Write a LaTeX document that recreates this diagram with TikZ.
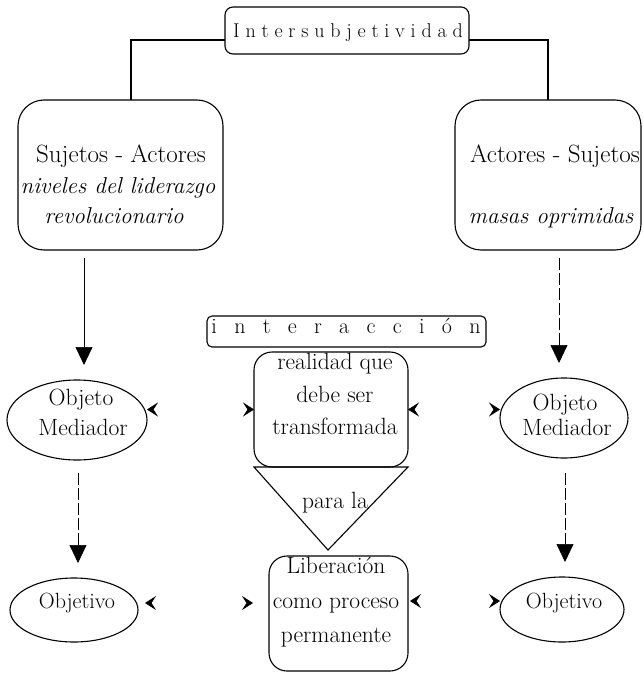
\documentclass[tikz,border=0pt]{standalone}
\usepackage{fontspec}
\usetikzlibrary{arrows.meta,shapes.geometric}
\newcommand{\heavy}{\addfontfeatures{FakeBold=1}}
\newcommand{\bigtxt}{\fontsize{25}{30}\selectfont\heavy}
\newcommand{\itxt}{\fontsize{23}{28}\selectfont\itshape\heavy}
\newcommand{\midtxt}{\fontsize{23.5}{28}\selectfont\heavy}
\newcommand{\smtxt}{\fontsize{22}{26}\selectfont\heavy}
\newcommand{\ls}{\hspace{5.8pt}}
\newcommand{\lw}{\hspace{17.3pt}}
\begin{document}
\begin{tikzpicture}[x=1pt,y=-1pt,
  every node/.style={inner sep=0pt, outer sep=0pt},
  rbox/.style={draw, line width=1.1pt, rectangle},
  oval/.style={draw, line width=1.1pt, ellipse},
  txt/.style={anchor=base},
  link/.style={line width=1.5pt},
  droparrow/.style={line width=0.7pt, -{Triangle[length=18pt,width=17pt]}},
  dashedlink/.style={dash pattern=on 12pt off 3pt},
  chev/.style={line width=0.6pt, dash pattern=on 0pt off 1000pt,
    {Stealth[length=11pt,width=14pt,inset=4.5pt]}-{Stealth[length=11pt,width=14pt,inset=4.5pt]}}]
\fill[white] (0,0) rectangle (643,674);
\useasboundingbox (0,0) rectangle (643,674);

% boxes and ovals
\node[rbox, rounded corners=8pt, minimum width=244pt, minimum height=47pt] (ib) at (347,30.5) {};
\node[rbox, rounded corners=26pt, minimum width=205pt, minimum height=150pt] (sa) at (120.5,175) {};
\node[rbox, rounded corners=26pt, minimum width=186pt, minimum height=150pt] (sb) at (548,175) {};
\node[rbox, rounded corners=5pt, minimum width=279pt, minimum height=31pt] (ia) at (346.5,331.5) {};
\node[rbox, rounded corners=18pt, minimum width=154pt, minimum height=115pt] (real) at (331,409.5) {};
\node[rbox, rounded corners=18pt, minimum width=139pt, minimum height=115pt] (lib) at (338.5,613.5) {};
\node[oval, minimum width=140pt, minimum height=80pt] (om1) at (77,420) {};
\node[oval, minimum width=128pt, minimum height=80pt] (om2) at (564,418) {};
\node[oval, minimum width=128pt, minimum height=64pt] (ob1) at (74,610) {};
\node[oval, minimum width=124pt, minimum height=65pt] (ob2) at (562,609.5) {};

% funnel under the reality box
\coordinate (apex) at (328,550);
\draw[line width=1.1pt] (real.south west) -- (real.south east) -- (apex) -- cycle;

% texts
\node[txt, font=\fontsize{20}{24}\selectfont\heavy] (it) at (348,38)
  {I\ls n\ls t\ls e\ls r\ls s\ls u\ls b\ls j\ls e\ls t\ls i\ls v\ls i\ls d\ls a\ls d};
\node[txt, font=\bigtxt] (t1) at (121,162) {Sujetos - Actores};
\node[txt, font=\itxt] (t2) at (118,193) {niveles del liderazgo};
\node[txt, font=\itxt] (t3) at (114,223) {revolucionario};
\node[txt, font=\bigtxt] (t4) at (555,162) {Actores - Sujetos};
\node[txt, font=\itxt] (t5) at (551,223) {masas oprimidas};
\node[txt, font=\fontsize{22}{26}\selectfont\heavy] (ix) at (346,333)
  {i\lw n\lw t\lw e\lw r\lw a\lw c\lw c\lw i\lw ó\lw n};
\node[txt, font=\midtxt] (r1) at (335,369) {realidad que};
\node[txt, font=\midtxt] (r2) at (335,402) {debe ser};
\node[txt, font=\midtxt] (r3) at (335,434) {transformada};
\node[txt, font=\midtxt] (pl) at (335,508) {para la};
\node[txt, font=\midtxt] (l1) at (336,573) {Liberación};
\node[txt, font=\midtxt] (l2) at (336,608) {como proceso};
\node[txt, font=\midtxt] (l3) at (336,642) {permanente};
\node[txt, font=\midtxt] (m1) at (81,405) {Objeto};
\node[txt, font=\midtxt] (m2) at (83,435) {Mediador};
\node[txt, font=\midtxt] (m3) at (565,410) {Objeto};
\node[txt, font=\midtxt] (m4) at (567,435) {Mediador};
\node[txt, font=\smtxt] (o1) at (77,608) {Objetivo};
\node[txt, font=\smtxt] (o2) at (564,608) {Objetivo};

% branches from the top box
\draw[link] ([yshift=-9.5pt]ib.west) -| ([xshift=10.5pt]sa.north);
\draw[link] ([yshift=-9.5pt]ib.east) -| (sb.north);

% downward arrows
\draw[droparrow, shorten <=8pt, shorten >=15pt] ([xshift=-36.5pt]sa.south) -- ([xshift=7pt]om1.north);
\draw[droparrow, dashedlink, shorten <=8pt, shorten >=15pt] ([xshift=11pt]sb.south) -- ([xshift=-5pt]om2.north);
\draw[droparrow, dashedlink, shorten <=13pt, shorten >=15pt] ([xshift=1pt]om1.south) -- ([xshift=4pt]ob1.north);
\draw[droparrow, dashedlink, shorten <=15pt, shorten >=15pt] ([xshift=1pt]om2.south) -- ([xshift=3pt]ob2.north);

% two-way ties between the columns
\coordinate (rowb) at (0,603);
\coordinate (rowc) at (0,601);
\draw[chev] (om1.east |- real.west) -- (real.west);
\draw[chev] (real.east) -- (om2.west |- real.east);
\draw[chev, shorten <=7pt, shorten >=16pt] (ob1.east |- rowb) -- (lib.west |- rowb);
\draw[chev, shorten <=2pt] (lib.east |- rowc) -- (ob2.west |- rowc);
\end{tikzpicture}
\end{document}
